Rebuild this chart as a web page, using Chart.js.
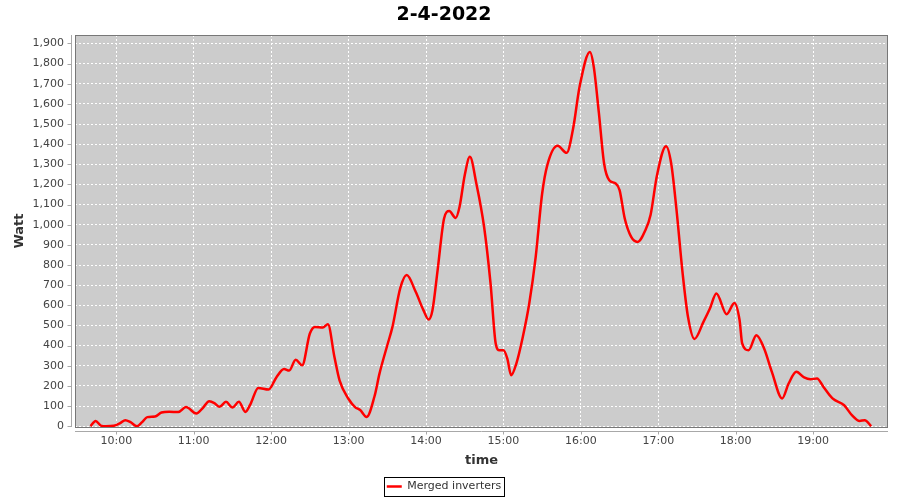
<!DOCTYPE html>
<html>
<head>
<meta charset="utf-8">
<script src="https://cdn.jsdelivr.net/npm/chart.js@4/dist/chart.umd.min.js"></script>
<style>
  html, body { margin: 0; padding: 0; background: #fff; }
  #wrap { width: 900px; height: 500px; }
</style>
</head>
<body>
<div id="wrap"><canvas id="powerChart" width="900" height="500"></canvas></div>
<script>
// readings of the merged inverters on 2-4-2022
const times = [
  '09:40', '09:44', '09:48', '09:52', '09:58', '10:03', '10:07', '10:11', '10:16', '10:20',
  '10:24', '10:30', '10:35', '10:41', '10:48', '10:54', '11:02', '11:07', '11:12', '11:16',
  '11:20', '11:25', '11:30', '11:35', '11:40', '11:44', '11:50', '11:58', '12:04', '12:10',
  '12:14', '12:19', '12:24', '12:30', '12:34', '12:40', '12:44', '12:49', '12:53', '13:00',
  '13:05', '13:09', '13:14', '13:20', '13:24', '13:30', '13:34', '13:40', '13:45', '13:52',
  '13:58', '14:02', '14:05', '14:09', '14:14', '14:18', '14:23', '14:26', '14:30', '14:34',
  '14:39', '14:45', '14:50', '14:54', '14:57', '15:00', '15:03', '15:06', '15:10', '15:15',
  '15:20', '15:25', '15:30', '15:34', '15:42', '15:49', '15:54', '15:59', '16:07', '16:10',
  '16:14', '16:18', '16:22', '16:27', '16:30', '16:34', '16:39', '16:44', '16:50', '16:54',
  '16:59', '17:06', '17:10', '17:14', '17:19', '17:23', '17:28', '17:35', '17:40', '17:45',
  '17:53', '17:59', '18:03', '18:05', '18:10', '18:16', '18:22', '18:28', '18:36', '18:41',
  '18:47', '18:53', '18:58', '19:03', '19:08', '19:15', '19:24', '19:30', '19:36', '19:40',
  '19:45'
];
const watts = [
  0, 26, 3, 0, 2, 15, 30, 20, 0, 20,
  45, 48, 68, 72, 70, 95, 63, 90, 124, 115,
  96, 121, 93, 121, 71, 110, 190, 182, 242, 284,
  276, 330, 302, 460, 493, 490, 506, 345, 228, 135,
  95, 80, 46, 146, 262, 402, 493, 684, 750, 667,
  576, 530, 576, 775, 1031, 1068, 1034, 1089, 1246, 1337,
  1205, 990, 709, 411, 377, 377, 336, 253, 311, 443,
  609, 841, 1155, 1296, 1392, 1357, 1478, 1685, 1858, 1784,
  1553, 1304, 1221, 1205, 1172, 1031, 940, 915, 973, 1048,
  1246, 1390, 1304, 1081, 750, 543, 433, 518, 584, 659,
  556, 612, 526, 411, 377, 452, 386, 270, 138, 212,
  270, 242, 233, 237, 195, 138, 104, 55, 26, 30,
  0
];
const hourTicks = ['10:00', '11:00', '12:00', '13:00', '14:00', '15:00', '16:00', '17:00', '18:00', '19:00'];

function toMinutes(s) {
  const p = s.split(':');
  return Number(p[0]) * 60 + Number(p[1]);
}
function toLabel(m) {
  const h = Math.floor(m / 60), mm = Math.round(m % 60);
  return String(h).padStart(2, '0') + ':' + String(mm).padStart(2, '0');
}

const points = times.map((t, i) => ({ x: toMinutes(t), y: watts[i] }));

// grey plot background, frame, offset axis lines and legend box (JFreeChart look)
const plotFrame = {
  id: 'plotFrame',
  beforeDraw(chart) {
    const { ctx, chartArea: a } = chart;
    ctx.save();
    ctx.fillStyle = '#cccccc';
    ctx.fillRect(a.left, a.top, a.right - a.left, a.bottom - a.top);
    ctx.restore();
  },
  beforeDatasetsDraw(chart) {
    const { ctx, chartArea: a, scales } = chart;
    ctx.save();
    ctx.lineWidth = 1;
    ctx.strokeStyle = '#777777';
    ctx.strokeRect(a.left + 0.5, a.top + 0.5, a.right - a.left - 1, a.bottom - a.top);

    ctx.strokeStyle = '#a8a8a8';
    ctx.beginPath();
    const ax = a.left - 3.5, ay = a.bottom + 4.5;
    ctx.moveTo(ax, a.top); ctx.lineTo(ax, a.bottom);
    ctx.moveTo(a.left, ay); ctx.lineTo(a.right, ay);
    scales.y.ticks.forEach(t => {
      const y = Math.round(scales.y.getPixelForValue(t.value)) + 0.5;
      ctx.moveTo(ax - 4, y); ctx.lineTo(ax, y);
    });
    scales.x.ticks.forEach(t => {
      const x = Math.round(scales.x.getPixelForValue(t.value)) + 0.5;
      ctx.moveTo(x, ay); ctx.lineTo(x, ay + 3);
    });
    ctx.stroke();
    ctx.restore();
  },
  afterDraw(chart) {
    const { ctx } = chart;
    const hb = chart.legend.legendHitBoxes[0];
    if (!hb) return;
    ctx.save();
    ctx.strokeStyle = '#000';
    ctx.lineWidth = 1;
    const l = Math.round(hb.left - 3) + 0.5, r = Math.round(hb.left + hb.width + 3) + 0.5;
    const t = Math.round(hb.top - 4) + 0.5, b = Math.round(hb.top + hb.height + 4) + 0.5;
    ctx.strokeRect(l, t, r - l, b - t);
    ctx.restore();
  }
};

const ctx = document.getElementById('powerChart').getContext('2d');
new Chart(ctx, {
  type: 'line',
  data: {
    datasets: [{
      label: 'Merged inverters',
      data: points,
      borderColor: '#ff0000',
      backgroundColor: '#ff0000',
      borderWidth: 2.5,
      pointRadius: 0,
      cubicInterpolationMode: 'monotone',
      fill: false
    }]
  },
  options: {
    responsive: false,
    animation: false,
    layout: { padding: { left: 0, right: 12, top: 0, bottom: -2 } },
    plugins: {
      title: {
        display: true,
        text: '2-4-2022',
        color: '#000',
        font: { family: 'DejaVu Sans', size: 19, weight: 'bold', lineHeight: '24px' },
        padding: { top: 3, bottom: 8 }
      },
      legend: {
        position: 'bottom',
        labels: {
          usePointStyle: true,
          pointStyle: 'line',
          pointStyleWidth: 15,
          padding: 5,
          color: '#333',
          font: { family: 'DejaVu Sans', size: 11 }
        }
      },
      tooltip: { enabled: false }
    },
    scales: {
      x: {
        type: 'linear',
        min: 568,
        max: 1198,
        afterBuildTicks(scale) {
          scale.ticks = hourTicks.map(h => ({ value: toMinutes(h) }));
        },
        afterFit(scale) { scale.height = 49; },
        ticks: {
          padding: 1,
          color: '#444',
          font: { family: 'DejaVu Sans', size: 11 },
          callback: v => toLabel(v),
          maxRotation: 0
        },
        grid: { color: '#ffffff', tickLength: 7, tickColor: 'rgba(0,0,0,0)' },
        border: { display: false, dash: [2, 2] },
        title: {
          display: true,
          text: 'time',
          color: '#333',
          font: { family: 'DejaVu Sans', size: 13, weight: 'bold' },
          padding: { top: 0, bottom: 8 }
        }
      },
      y: {
        min: -4,
        max: 1942,
        afterBuildTicks(scale) {
          const t = [];
          for (let v = 0; v <= 1900; v += 100) t.push({ value: v });
          scale.ticks = t;
        },
        afterFit(scale) { scale.width = 75; },
        ticks: {
          padding: 4,
          color: '#444',
          font: { family: 'DejaVu Sans', size: 11 },
          callback: v => v.toLocaleString('en-US')
        },
        grid: { color: '#ffffff', tickLength: 7, tickColor: 'rgba(0,0,0,0)' },
        border: { display: false, dash: [2, 2] },
        title: {
          display: true,
          text: 'Watt',
          color: '#333',
          font: { family: 'DejaVu Sans', size: 13, weight: 'bold' },
          padding: { top: 12, bottom: 0 }
        }
      }
    }
  },
  plugins: [plotFrame]
});
</script>
</body>
</html>
